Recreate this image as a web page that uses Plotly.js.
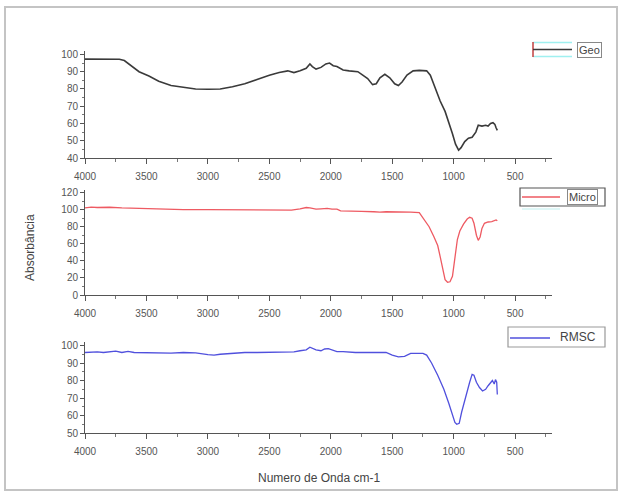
<!DOCTYPE html>
<html>
<head>
<meta charset="utf-8">
<script src="https://cdn.plot.ly/plotly-3.0.1.min.js"></script>
<style>html,body{margin:0;padding:0;background:#fff;}#chart{width:622px;height:493px;}</style>
</head>
<body>
<div id="chart"></div>
<script>
// Geo spectrum (wavenumber cm-1, absorbance)
const geoX = [4000,3900,3800,3720,3680,3620,3560,3480,3400,3300,3200,3100,3000,2900,2800,2700,2600,2500,2420,2350,2300,2250,2200,2170,2150,2120,2080,2040,2010,1980,1950,1900,1850,1780,1740,1700,1660,1630,1600,1560,1520,1480,1450,1420,1380,1330,1280,1220,1190,1150,1110,1070,1040,1010,985,960,940,910,880,850,820,800,770,740,720,700,680,665,655,645];
const geoY = [97.3,97.4,97.5,97.2,96.5,93,90,87.5,84.5,82,80.8,80,79.8,80,81.3,83,85.5,88,89.5,90.5,89.5,90.5,92,94.5,93,91.5,92.5,94.5,95,93.5,93,91,90.5,90,88,86,82.5,83,86.5,88.5,86.5,83,82,84,88,90.5,90.8,90.5,88,80,73,67,61,54,48,44.5,46,49.5,51.5,52,55,59,58.5,59,58.5,60,60.5,59.5,57.5,56];

// Micro spectrum
const microX = [4000,3950,3900,3800,3700,3600,3500,3400,3300,3200,3000,2800,2600,2400,2320,2250,2200,2170,2120,2080,2030,1990,1950,1920,1850,1750,1650,1600,1550,1450,1350,1280,1250,1200,1160,1130,1110,1090,1070,1050,1030,1010,990,970,950,920,890,870,850,835,815,800,785,770,750,720,690,670,655,645];
const microY = [102,103,102.5,102.8,102,101.5,101.5,101,100.5,100,100,100,100,100,99.5,101,102.5,102,100.5,101,101.5,100.5,100.5,98.5,98.5,98,97.5,97,97.5,97.5,97,96.5,90,80,68,58,45,30,18,15,15.5,22,45,65,75,83,89,91,90,84,70,64,68,78,84,85.5,86,87,88,87];

// RMSC spectrum
const rmscX = [4000,3900,3850,3800,3750,3700,3650,3600,3500,3400,3300,3200,3100,3000,2950,2900,2800,2700,2600,2500,2400,2300,2250,2200,2170,2150,2120,2080,2050,2020,1990,1950,1900,1800,1700,1600,1550,1500,1450,1400,1350,1300,1250,1220,1180,1130,1080,1040,1010,990,975,955,935,900,870,850,835,815,790,765,740,720,700,685,670,660,650,645];
const rmscY = [96,96.3,96,96.5,96.8,96,96.6,96,95.8,95.5,95.6,96,95.8,94.8,94.5,95,95.5,96,96,96.2,96,96.3,97,97.5,99,98.5,97.5,97,98,98.2,97.5,96.5,96.5,96,96,96,96,94.5,93.5,93.8,95.5,95.5,95.5,94.5,90,83,75,67,60,56,55,55.5,62,72,79,83.5,83,79,76,74,75,77,79,80,78,80.5,79,72];

const seriesNames = ["Geo", "Micro", "RMSC"];
const seriesColors = ['#3a3a3a', '#ee5a62', '#5050dd'];
const xTitle = "Numero de Onda cm-1";
const yTitle = "Absorbância";

const W = 622, H = 493;
const M = {l: 85, r: 70, t: 20, b: 20, autoexpand: false};
const PW = W - M.l - M.r, PH = H - M.t - M.b;
const px = x => (x - M.l) / PW;
const py = y => (H - M.b - y) / PH;
const FONT = 'Liberation Sans, Arial, sans-serif';

const traces = [
  {x: geoX, y: geoY, name: seriesNames[0], type: 'scatter', mode: 'lines', xaxis: 'x', yaxis: 'y',
   line: {color: seriesColors[0], width: 1.6}},
  {x: microX, y: microY, name: seriesNames[1], type: 'scatter', mode: 'lines', xaxis: 'x2', yaxis: 'y2',
   line: {color: seriesColors[1], width: 1.3}},
  {x: rmscX, y: rmscY, name: seriesNames[2], type: 'scatter', mode: 'lines', xaxis: 'x3', yaxis: 'y3',
   line: {color: seriesColors[2], width: 1.3}}
];

const tickFont = {family: FONT, size: 10, color: '#555'};
function xAx(anchor) {
  return {domain: [0, 1], range: [4000, 200], anchor: anchor, dtick: 500, tick0: 0,
    ticks: 'outside', ticklen: 5, tickcolor: '#555', showline: true, linecolor: '#555', linewidth: 1,
    showgrid: false, zeroline: false, tickfont: tickFont, ticklabelstandoff: 4,
    minor: {dtick: 250, ticks: 'outside', ticklen: 3, tickcolor: '#777', showgrid: false}};
}
function yAx(anchor, dom, rng, dt, mdt) {
  return {domain: dom, range: rng, anchor: anchor, dtick: dt, tick0: 0,
    ticks: 'outside', ticklen: 4, tickcolor: '#555', showline: true, linecolor: '#555', linewidth: 1,
    showgrid: false, zeroline: false, tickfont: tickFont,
    minor: {dtick: mdt, ticks: 'outside', ticklen: 2.5, tickcolor: '#777', showgrid: false}};
}

// legend boxes (Origin style): [box x0, x1, y0, y1, line x0, line x1, line y, text x0]
const legBoxes = [
  [532, 606, 42, 57, 533, 572, 49.5, 572],
  [520, 605, 188, 206, 522, 560, 197, 560],
  [508, 605, 327, 347, 510, 550, 338, 550]
];
const shapes = [
  {type: 'rect', xref: 'paper', yref: 'paper', x0: px(5), x1: px(617), y0: py(490), y1: py(7),
   line: {color: '#c4c4c4', width: 2}, fillcolor: 'rgba(0,0,0,0)', layer: 'below'}
];
const annotations = [
  {text: xTitle, xref: 'paper', yref: 'paper', x: px(319), y: py(478), showarrow: false,
   xanchor: 'center', yanchor: 'middle', font: {family: FONT, size: 12, color: '#444'}},
  {text: yTitle, xref: 'paper', yref: 'paper', x: px(30), y: py(248), showarrow: false, textangle: -90,
   xanchor: 'center', yanchor: 'middle', font: {family: FONT, size: 12, color: '#444'}}
];
legBoxes.forEach((b, i) => {
  if (i === 1) {
    shapes.push({type: 'rect', xref: 'paper', yref: 'paper', x0: px(b[0]), x1: px(b[1]), y0: py(b[3]), y1: py(b[2]),
      line: {color: '#555', width: 1.2}, fillcolor: 'rgba(0,0,0,0)'});
  } else if (i === 2) {
    shapes.push({type: 'rect', xref: 'paper', yref: 'paper', x0: px(b[0]), x1: px(b[1]), y0: py(b[3]), y1: py(b[2]),
      line: {color: '#999', width: 1.2}, fillcolor: 'rgba(0,0,0,0)'});
  }
  if (i === 0) {
    // cyan guides and red end bar of the Origin legend symbol
    shapes.push({type: 'line', xref: 'paper', yref: 'paper', x0: px(b[4]), x1: px(b[5]), y0: py(b[2] + 0.5), y1: py(b[2] + 0.5),
      line: {color: '#9ff0f0', width: 1.5}});
    shapes.push({type: 'line', xref: 'paper', yref: 'paper', x0: px(b[4]), x1: px(b[5]), y0: py(b[3] - 0.5), y1: py(b[3] - 0.5),
      line: {color: '#9ff0f0', width: 1.5}});
    shapes.push({type: 'line', xref: 'paper', yref: 'paper', x0: px(b[4]), x1: px(b[4]), y0: py(b[3]), y1: py(b[2]),
      line: {color: '#c04040', width: 1.5}});
  }
  if (i === 1) {
    shapes.push({type: 'line', xref: 'paper', yref: 'paper', x0: px(b[4]), x1: px(b[5]), y0: py(b[3] + 3), y1: py(b[3] + 3),
      line: {color: '#bff0f0', width: 1.2}});
  }
  shapes.push({type: 'line', xref: 'paper', yref: 'paper', x0: px(b[4]), x1: px(b[5]), y0: py(b[6]), y1: py(b[6]),
    line: {color: seriesColors[i], width: 1.3}});
  const boxed = i < 2;
  annotations.push({text: seriesNames[i], xref: 'paper', yref: 'paper',
    x: px((b[7] + b[1]) / 2), y: py((b[2] + b[3]) / 2), showarrow: false, xanchor: 'center', yanchor: 'middle',
    font: {family: FONT, size: i === 2 ? 12 : 11, color: '#444'},
    bordercolor: boxed ? '#888' : 'rgba(0,0,0,0)', borderwidth: boxed ? 1 : 0, borderpad: 1});
});

const layout = {
  width: W, height: H, margin: M, paper_bgcolor: '#fff', plot_bgcolor: '#fff', showlegend: false,
  xaxis: xAx('y'), xaxis2: xAx('y2'), xaxis3: xAx('y3'),
  yaxis: yAx('x', [py(158), py(51)], [40, 102], 10, 5),
  yaxis2: yAx('x2', [py(295), py(190)], [0, 123], 20, 10),
  yaxis3: yAx('x3', [py(433), py(342)], [50, 102], 10, 5),
  annotations: annotations,
  shapes: shapes
};

Plotly.newPlot('chart', traces, layout, {displayModeBar: false, staticPlot: true});
</script>
</body>
</html>
